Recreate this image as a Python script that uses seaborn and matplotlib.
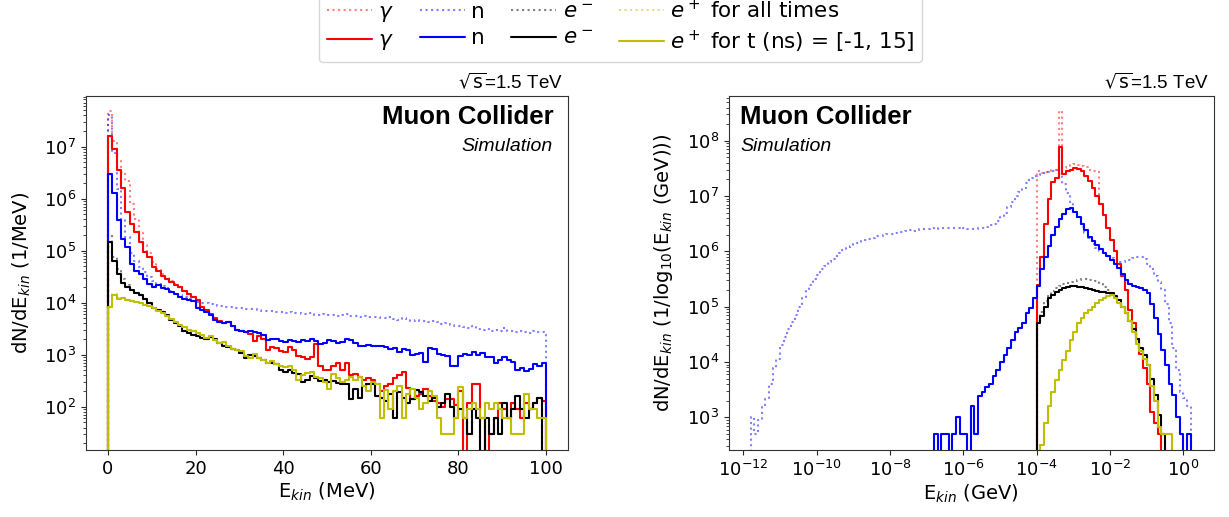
import numpy as np
import pandas as pd
import matplotlib
matplotlib.use("Agg")
import matplotlib.pyplot as plt
from matplotlib.lines import Line2D
from matplotlib.ticker import LogLocator, NullLocator
import seaborn as sns

# ---------------- left panel: dN/dE (1/MeV), 1 MeV bins from 0 to 100 MeV
mev_edges = np.arange(0, 101)

gamma_t = [1.6e7, 9.1e6, 3.6e6, 1.6e6, 5.6e5, 3.3e5, 2.3e5, 1.45e5, 9.3e4, 7.4e4,
           4.8e4, 4.1e4, 3.2e4, 2.8e4, 2.5e4, 2.2e4, 2.0e4, 1.66e4, 1.45e4, 1.26e4,
           1.12e4, 8300, 7200, 6000, 5000, 4400, 4000, 4200, 3500, 3000,
           2900, 2700, 2500, 1800, 2300, 2000, 1260, 1380, 1320, 1200,
           1120, 1400, 1260, 950, 890, 830, 910, 1620, 620, 520,
           500, 600, 680, 500, 680, 400, 420, 370, 320, 350,
           320, 280, 200, 250, 280, 350, 400, 460, 230, 140,
           160, 180, 220, 160, 130, 120, 100, 140, 140, 110,
           200, 0, 120, 270, 280, 60, 0, 30, 60, 120,
           90, 60, 120, 90, 60, 120, 90, 120, 150, 130]
gamma_all_head = [4.8e7, 1.3e7, 5.5e6, 3.2e6, 2.2e6, 8.0e5, 4.0e5, 2.2e5, 1.3e5, 9.0e4,
                  6.0e4, 4.5e4, 3.6e4, 3.0e4, 2.6e4, 2.3e4]

n_t = [2.9e6, 1.3e6, 3.8e5, 1.7e5, 1.15e5, 5.5e4, 4.1e4, 3.5e4, 2.8e4, 2.3e4,
       2.0e4, 2.2e4, 1.9e4, 1.8e4, 1.6e4, 1.45e4, 1.3e4, 1.2e4, 1.15e4, 1.1e4,
       7800, 7300, 6500, 5800, 4600, 4300, 4000, 4300, 3600, 3000,
       2900, 2750, 2800, 2700, 2600, 2400, 1900, 2000, 2050, 1800,
       1750, 1900, 1800, 1750, 1900, 1850, 2000, 1850, 1600, 1650,
       1900, 1850, 1700, 1750, 2050, 1950, 1700, 1500, 1500, 1550,
       1450, 1500, 1500, 1400, 1300, 1350, 1150, 1300, 1250, 980,
       1050, 1100, 720, 1350, 1300, 1050, 1000, 950, 600, 620,
       950, 1050, 1000, 1150, 1000, 1100, 900, 900, 700, 800,
       900, 800, 720, 520, 560, 480, 540, 650, 600, 680]
n_all = [4.0e7, 7.5e6, 1.5e6, 4.0e5, 1.8e5, 9.0e4, 6.2e4, 4.8e4, 3.8e4, 3.1e4,
         2.6e4, 2.3e4, 2.1e4, 1.9e4, 1.7e4, 1.55e4, 1.4e4, 1.3e4, 1.2e4, 1.1e4,
         1.05e4, 1.0e4, 9800, 9500, 9200, 8800, 8600, 8400, 8100, 7900,
         7800, 7600, 7400, 7500, 7200, 7000, 6800, 6900, 6600, 6500,
         6400, 6600, 6200, 6300, 6100, 6000, 6200, 5900, 5800, 6000,
         5700, 5900, 5600, 5800, 6100, 5500, 5600, 5400, 5500, 5300,
         5200, 5400, 5000, 5100, 5200, 4900, 4700, 5000, 4800, 4500,
         4600, 4400, 4500, 4300, 4400, 4200, 3900, 4000, 3700, 3500,
         3600, 3400, 3300, 3500, 3100, 3000, 3100, 2900, 3000, 2850,
         3200, 2900, 2800, 2750, 2800, 2700, 2650, 2800, 2700, 2750]

em_t = [1.45e5, 6.3e4, 3.5e4, 2.4e4, 2.0e4, 1.75e4, 1.55e4, 1.4e4, 1.2e4, 1.0e4,
        8000, 7200, 6600, 5700, 4700, 4000, 3500, 2900, 2600, 2400,
        2250, 2100, 2050, 2200, 2000, 1700, 1500, 1400, 1300, 1250,
        1100, 850, 1000, 950, 850, 800, 680, 700, 650, 500,
        460, 520, 440, 420, 300, 330, 390, 360, 310, 320,
        300, 310, 290, 280, 270, 140, 220, 150, 250, 270,
        280, 160, 150, 130, 180, 60, 190, 150, 120, 140,
        210, 190, 160, 130, 150, 100, 120, 180, 100, 60,
        90, 60, 30, 90, 60, 0, 60, 30, 60, 30,
        120, 60, 90, 160, 90, 60, 90, 120, 150, 0]
em_all_head = [2.0e5, 7.5e4, 4.5e4, 2.8e4, 2.2e4]

ep_t = [8300, 1.4e4, 1.2e4, 1.25e4, 1.15e4, 1.1e4, 1.05e4, 1.0e4, 9200, 8500,
        7800, 7000, 6200, 5500, 4800, 4300, 3700, 3400, 3000, 2800,
        2600, 2400, 2100, 2250, 1900, 1700, 1750, 1500, 1300, 1250,
        1200, 950, 850, 1050, 850, 780, 700, 760, 650, 600,
        580, 620, 500, 320, 410, 450, 460, 380, 350, 300,
        220, 420, 350, 300, 330, 380, 330, 370, 250, 200,
        300, 280, 60, 210, 90, 200, 250, 60, 180, 220,
        150, 90, 120, 200, 160, 60, 30, 30, 30, 60,
        240, 60, 90, 120, 90, 60, 120, 90, 120, 90,
        60, 60, 30, 30, 30, 180, 90, 90, 60, 60]
ep_all_head = [8500, 1.45e4, 1.25e4]

# ---------------- right panel: dN/dlog10(E), 0.1-decade bins, values in log10 (None = empty bin)
dec_width = 0.1

n_all_start = -11.8
n_all_log10 = [3.0, 2.7, 2.95, 3.2, 3.35, 3.6, 3.9, 4.05, 4.3, 4.45,
               4.6, 4.72, 4.85, 5.0, 5.15, 5.3, 5.4, 5.5, 5.58, 5.68,
               5.74, 5.8, 5.86, 5.92, 5.98, 6.02, 6.06, 6.1, 6.13, 6.15,
               6.18, 6.21, 6.23, 6.25, 6.27, 6.28, 6.3, 6.31, 6.32, 6.34,
               6.35, 6.36, 6.37, 6.38, 6.37, 6.39, 6.4, 6.4, 6.41, 6.42,
               6.41, 6.42, 6.43, 6.42, 6.42, 6.43, 6.42, 6.41, 6.42, 6.41,
               6.4, 6.41, 6.42, 6.43, 6.45, 6.47, 6.49, 6.55, 6.62, 6.7,
               6.8, 6.9, 7.0, 7.07, 7.15, 7.24, 7.32, 7.37, 7.39, 7.41,
               7.42, 7.44, 7.46, 7.48, 7.4, 7.22, 7.05, 6.88, 6.72, 6.6,
               6.45, 6.34, 6.24, 6.14, 6.06, 6.0, 5.95, 5.92, 5.88, 5.84,
               5.8, 5.8, 5.82, 5.85, 5.88, 5.9, 5.9, 5.86, 5.78, 5.68,
               5.55, 5.45, 5.3, 5.05, 4.7, 4.25, 3.85, 3.45, 3.35, 3.2]

n_t_start = -6.8
n_t_log10 = [2.7, None, 2.7, 2.7, None, 2.7, 3.0, 2.7, 2.7, None,
             3.2, 2.7, 3.38, 3.45, 3.55, 3.6, 3.75, 3.85, 4.0, 4.12,
             4.25, 4.4, 4.55, 4.62, 4.7, 4.88, 4.98, 5.15, 5.38, 5.68,
             5.9, 6.1, 6.3, 6.45, 6.58, 6.68, 6.76, 6.79, 6.72, 6.62,
             6.5, 6.38, 6.26, 6.18, 6.12, 6.05, 5.98, 5.92, 5.85, 5.78,
             5.7, 5.6, 5.48, 5.42, 5.38, 5.36, 5.33, 5.3, 5.25, 5.05,
             4.8, 4.5, 4.22, 3.95, 3.6, 3.4, 3.0, 2.7, None, 2.7]

gamma_start = -4.0
gamma_t_log10 = [5.4, 5.9, 6.5, 6.95, 7.25, 7.33, 7.89, 7.4, 7.45, 7.48,
                 7.5, 7.49, 7.45, 7.37, 7.28, 7.15, 7.0, 6.85, 6.65, 6.42,
                 6.2, 6.0, 5.78, 5.55, 5.3, 4.95, 4.7, 4.42, 4.15, 3.9,
                 3.6, 3.1, 2.9, 2.7]
gamma_all_head_log10 = [7.45, 7.42, 7.44, 7.46, 7.47, 7.48, 8.53, 7.5, 7.53, 7.56,
                        7.58, 7.57, 7.55, 7.52, 7.48, 7.46, 7.45]

em_start = -4.0
em_t_log10 = [4.71, 4.83, 5.0, 5.15, 5.22, 5.26, 5.3, 5.34, 5.36, 5.37,
              5.37, 5.36, 5.35, 5.34, 5.32, 5.3, 5.28, 5.27, 5.26, 5.25,
              5.24, 5.2, 5.12, 5.0, 4.88, 4.74, 4.6, 4.42, 4.25, 4.12,
              3.95, 3.7, 3.4, 3.05, 2.7]
em_all_head_log10 = [4.75, 4.9, 5.1, 5.2, 5.28, 5.33, 5.38, 5.41, 5.43, 5.45,
                     5.46, 5.48, 5.5, 5.5, 5.49, 5.48, 5.46, 5.42, 5.36, 5.3]

ep_start = -3.9
ep_t_log10 = [2.5, 2.9, 3.2, 3.45, 3.68, 3.85, 4.04, 4.2, 4.4, 4.55,
              4.7, 4.8, 4.88, 4.95, 5.0, 5.06, 5.12, 5.15, 5.19, 5.22,
              5.15, 5.07, 5.0, 4.88, 4.74, 4.55, 4.32, 4.2, 4.05, 3.95,
              3.56, 3.3, 2.83, 2.7, 2.7, 2.7]

COLORS = {"gamma": "#ff0000", "n": "#0000ff", "em": "#000000", "ep": "#bfbf00"}


def unlog(vals):
    return np.array([0.0 if v is None else 10.0 ** v for v in vals])


def log_edges(start, n):
    return 10.0 ** (start + dec_width * np.arange(n + 1))


def draw_hist(ax, edges, values, color, dotted=False, log=False):
    edges = np.asarray(edges, float)
    values = np.asarray(values, float)
    # empty bin on both ends so the outline drops down to the axis
    if log:
        lo, hi = edges[0] ** 2 / edges[1], edges[-1] ** 2 / edges[-2]
    else:
        lo, hi = 2 * edges[0] - edges[1], 2 * edges[-1] - edges[-2]
    e = np.concatenate([[lo], edges, [hi]])
    v = np.concatenate([[0.0], values, [0.0]])
    c = np.sqrt(e[:-1] * e[1:]) if log else 0.5 * (e[:-1] + e[1:])
    df = pd.DataFrame({"E": c, "w": v})
    sns.histplot(data=df, x="E", weights="w", bins=list(e), element="step", fill=False,
                 color=color, linestyle=":" if dotted else "-",
                 alpha=0.5 if dotted else 1.0, linewidth=1.5, ax=ax)


sns.set_style("ticks")
plt.rcParams["font.family"] = ["DejaVu Sans"]
plt.rcParams["axes.edgecolor"] = "#333333"
plt.rcParams["text.color"] = "black"
plt.rcParams["axes.labelcolor"] = "black"
plt.rcParams["xtick.labelcolor"] = "black"
plt.rcParams["ytick.labelcolor"] = "black"

fig = plt.figure(figsize=(12.29, 5.17), dpi=100)
ax1 = fig.add_axes([0.070, 0.1296, 0.3922, 0.6847])
ax2 = fig.add_axes([0.5929, 0.1296, 0.3947, 0.6847])

# left
gamma_all = gamma_all_head + gamma_t[len(gamma_all_head):]
em_all = em_all_head + em_t[len(em_all_head):]
ep_all = ep_all_head + ep_t[len(ep_all_head):]
draw_hist(ax1, mev_edges, gamma_all, COLORS["gamma"], dotted=True)
draw_hist(ax1, mev_edges, n_all, COLORS["n"], dotted=True)
draw_hist(ax1, mev_edges, em_all, COLORS["em"], dotted=True)
draw_hist(ax1, mev_edges, ep_all, COLORS["ep"], dotted=True)
draw_hist(ax1, mev_edges, gamma_t, COLORS["gamma"])
draw_hist(ax1, mev_edges, n_t, COLORS["n"])
draw_hist(ax1, mev_edges, em_t, COLORS["em"])
draw_hist(ax1, mev_edges, ep_t, COLORS["ep"])

# right
g_all_r = gamma_all_head_log10 + gamma_t_log10[len(gamma_all_head_log10):]
em_all_r = em_all_head_log10 + em_t_log10[len(em_all_head_log10):]
draw_hist(ax2, log_edges(gamma_start, len(g_all_r)), unlog(g_all_r), COLORS["gamma"], True, True)
draw_hist(ax2, log_edges(n_all_start, len(n_all_log10)), unlog(n_all_log10), COLORS["n"], True, True)
draw_hist(ax2, log_edges(em_start, len(em_all_r)), unlog(em_all_r), COLORS["em"], True, True)
draw_hist(ax2, log_edges(ep_start, len(ep_t_log10)), unlog(ep_t_log10), COLORS["ep"], True, True)
draw_hist(ax2, log_edges(gamma_start, len(gamma_t_log10)), unlog(gamma_t_log10), COLORS["gamma"], log=True)
draw_hist(ax2, log_edges(n_t_start, len(n_t_log10)), unlog(n_t_log10), COLORS["n"], log=True)
draw_hist(ax2, log_edges(em_start, len(em_t_log10)), unlog(em_t_log10), COLORS["em"], log=True)
draw_hist(ax2, log_edges(ep_start, len(ep_t_log10)), unlog(ep_t_log10), COLORS["ep"], log=True)

ax1.set_yscale("log")
ax1.set_xlim(-5, 105)
ax1.set_ylim(10 ** 1.17, 10 ** 7.97)
ax1.set_xlabel(r"E$_{kin}$ (MeV)", fontsize=14, labelpad=2)
ax1.set_ylabel(r"dN/dE$_{kin}$ (1/MeV)", fontsize=14, labelpad=8)

ax2.set_xscale("log")
ax2.set_yscale("log")
ax2.set_xlim(10 ** -12.4, 10 ** 0.83)
ax2.set_ylim(10 ** 2.41, 10 ** 8.81)
ax2.set_xticks([10.0 ** k for k in range(-12, 1, 2)])
ax2.xaxis.set_minor_locator(NullLocator())
ax2.set_xlabel(r"E$_{kin}$ (GeV)", fontsize=14, labelpad=2)
ax2.set_ylabel(r"dN/dE$_{kin}$ (1/log$_{10}$(E$_{kin}$ (GeV)))", fontsize=14, labelpad=8)

for ax in (ax1, ax2):
    ax.tick_params(labelsize=13)
    ax.yaxis.set_major_locator(LogLocator(base=10, numticks=20))
    ax.yaxis.set_minor_locator(LogLocator(base=10, subs=np.arange(2, 10), numticks=20))
    ax.text(0.99, 1.012, r"$\sqrt{\mathrm{s}}$=1.5 TeV", transform=ax.transAxes,
            ha="right", va="bottom", fontsize=13.5, family=["Liberation Sans", "DejaVu Sans"])

ax1.text(0.971, 0.94, "Muon Collider", transform=ax1.transAxes, ha="right", va="center",
         fontsize=18.5, fontweight="bold", family=["Liberation Sans"])
ax1.text(0.969, 0.856, "Simulation", transform=ax1.transAxes, ha="right", va="center",
         fontsize=14, style="italic", family=["Liberation Sans"])
ax2.text(0.023, 0.94, "Muon Collider", transform=ax2.transAxes, ha="left", va="center",
         fontsize=18.5, fontweight="bold", family=["Liberation Sans"])
ax2.text(0.025, 0.856, "Simulation", transform=ax2.transAxes, ha="left", va="center",
         fontsize=14, style="italic", family=["Liberation Sans"])

# legend: first row "all times" (dotted), second row time window (solid)
handles, labels = [], []
for key, lab in [("gamma", r"$\gamma$"), ("n", "n"), ("em", r"$e^-$"), ("ep", r"$e^+$")]:
    handles.append(Line2D([], [], color=COLORS[key], ls=":", lw=1.5, alpha=0.5))
    handles.append(Line2D([], [], color=COLORS[key], ls="-", lw=1.5))
    if key == "ep":
        labels += [lab + " for all times", lab + " for t (ns) = [-1, 15]"]
    else:
        labels += [lab, lab]
fig.legend(handles, labels, ncol=4, loc="lower center", bbox_to_anchor=(0.505, 0.880),
           borderaxespad=0.0, fontsize=15.5, labelspacing=0.3, handlelength=2.1,
           handletextpad=0.3, columnspacing=1.2, borderpad=0.35, frameon=True)

fig.savefig("out.png", dpi=100)
